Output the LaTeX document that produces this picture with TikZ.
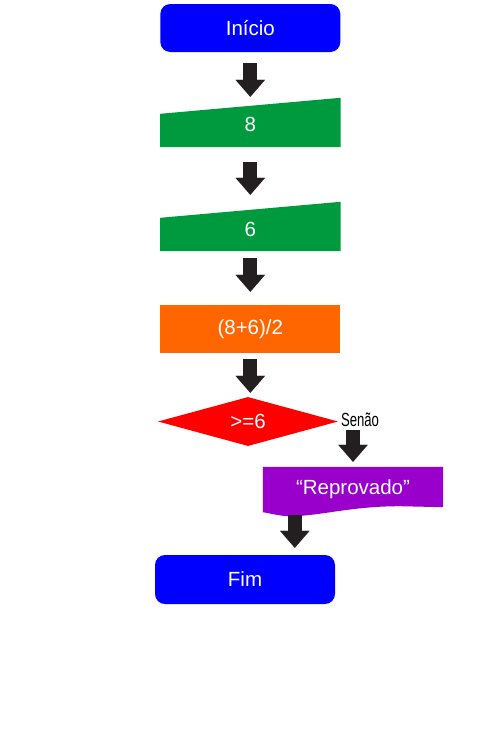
\documentclass[tikz,border=0pt]{standalone}
\usepackage{fontspec}
\usepackage{graphicx}
\setmainfont{Liberation Sans}
\usetikzlibrary{shapes.geometric,arrows.meta,calc,backgrounds}
\definecolor{cblue}{RGB}{0,0,255}
\definecolor{cgreen}{RGB}{0,154,62}
\definecolor{corange}{RGB}{255,102,0}
\definecolor{cred}{RGB}{255,0,0}
\definecolor{cpurple}{RGB}{153,0,204}
\definecolor{carrow}{RGB}{35,31,32}
\begin{document}
\begin{tikzpicture}[x=1pt,y=-1pt,
  txt/.style={text=white,font=\fontsize{20.5}{24}\selectfont,inner sep=0pt},
  term/.style={txt,fill=cblue,rounded corners=10pt,minimum width=180pt,minimum height=48pt},
  box/.style={txt,minimum width=180pt,minimum height=48pt},
  blk/.style={carrow,line width=14pt,-{Triangle[width=29.5pt,length=17pt,line width=0.01pt]}}
]
\useasboundingbox (0,0) rectangle (500,750);

\node[term] (ini) at (250.3,28) {Início};
\node[box,minimum height=49pt,text height=17.7pt,text depth=0pt] (in8) at (250.3,122.5) {8};
\node[box,minimum height=49pt,text height=20.7pt,text depth=0pt] (in6) at (250.3,226.5) {6};
\node[box,fill=corange] (calc) at (250.3,329) {(8+6)/2};
\node[txt,diamond,fill=cred,minimum width=180pt,minimum height=49pt,aspect=3.67] (cond) at (248,421.5) {>=6};
\node[inner sep=0pt,font=\fontsize{19}{22}\selectfont] (senao) at (360,420) {\scalebox{0.69}[1]{Senão}};
\node[box,minimum height=45pt] (rep) at (353,489.5) {“Reprovado”};
\node[term,minimum height=49pt] (fim) at (245,579.5) {Fim};

\begin{scope}[on background layer]
  \fill[white] (0,0) rectangle (500,750);
  \fill[cgreen] (in8.south west) -- (in8.south east) -- (in8.north east) -- ([yshift=-16pt]in8.north west) -- cycle;
  \fill[cgreen] (in6.south west) -- (in6.south east) -- (in6.north east) -- ([yshift=-16pt]in6.north west) -- cycle;
  \fill[cpurple] (rep.north west) -- (rep.north east) -- ([yshift=5pt]rep.south east)
    -- ([xshift=-43pt,yshift=6pt]rep.south east)
    .. controls +(-50pt,0pt) and +(30pt,0pt) .. ([xshift=27pt,yshift=-4pt]rep.south west)
    .. controls +(-10pt,0pt) and +(7pt,-1pt) .. (rep.south west) -- cycle;
\end{scope}

\coordinate (rp) at ($(rep.south west)+(32,3)$);

\draw[blk,shorten <=11pt,shorten >=1pt] (ini.south) -- (in8.north);
\draw[blk,shorten <=15pt,shorten >=7pt] (in8.south) -- (in6.north);
\draw[blk,shorten <=7pt,shorten >=13pt] (in6.south) -- (calc.north);
\draw[blk,shorten <=6pt,shorten >=4pt] (calc.south) -- (calc.south |- cond.north);
\draw[blk,shorten <=8.5pt,shorten >=5pt] (rep.north |- cond.east) -- (rep.north);
\draw[blk,shorten >=7pt] (rp) -- (rp |- fim.north);
\end{tikzpicture}
\end{document}
